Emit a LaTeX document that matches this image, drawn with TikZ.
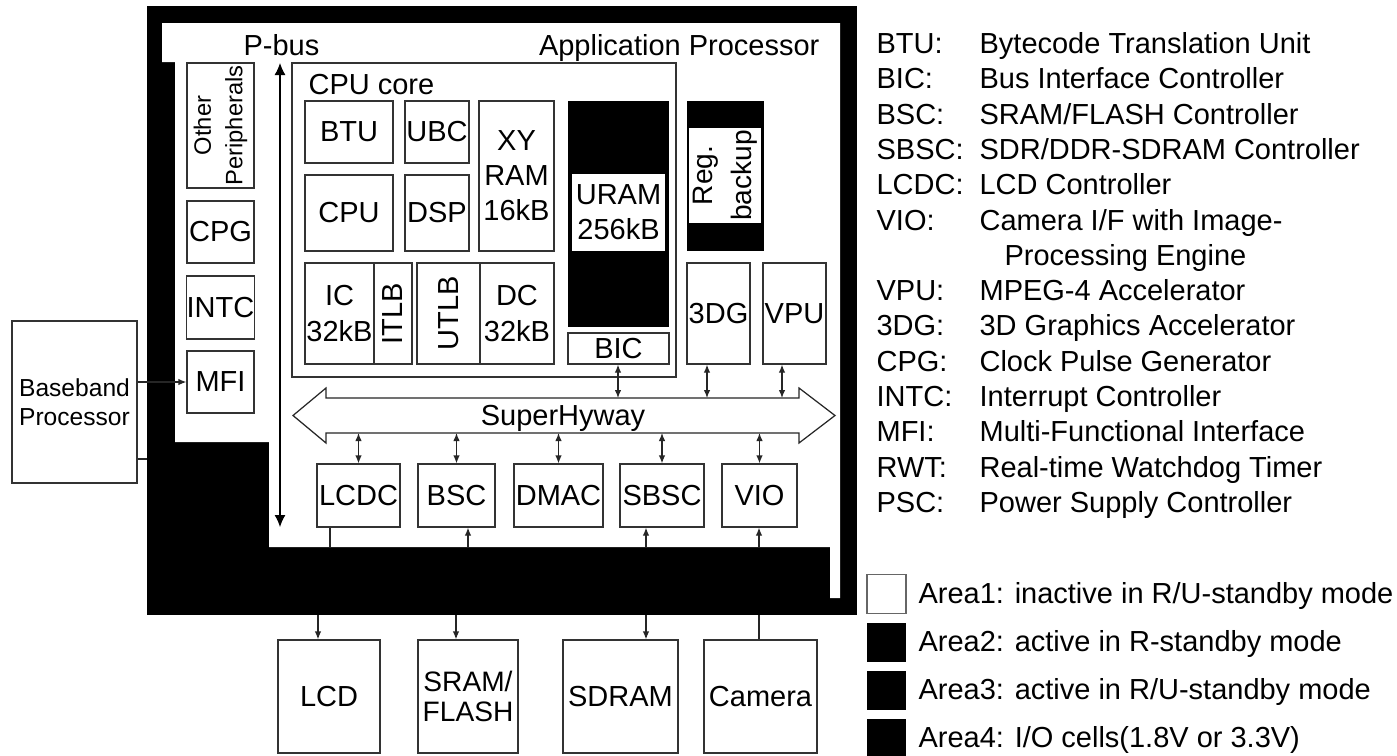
\documentclass[tikz,border=0pt]{standalone}
\usepackage{fontspec}
\setmainfont{Liberation Sans}
\usetikzlibrary{arrows.meta}

\begin{document}
\begin{tikzpicture}[x=0.02cm, y=-0.02cm, line width=0.7pt,
	every node/.style={font=\fontsize{16.5}{20}\selectfont, inner sep=0pt},
	>={Latex[length=1.6mm,width=1.3mm]},
	blk/.style={draw=black!80, fill=white, align=center},
	sz/.style 2 args={minimum width=#1*0.02cm, minimum height=#2*0.02cm},
	vtext/.style={rotate=90},
	cn/.style={draw=black!85},
	pbus/.style={{Latex[length=2.4mm,width=2.2mm]}-{Latex[length=2.4mm,width=2.2mm]}},
	lg/.style={anchor=base west}]
	\useasboundingbox (0,0) rectangle (1397,755);
	% application processor: I/O ring and core area
	\fill (147,6) rectangle (857,615);
	\fill[white] (162,23) -- (840,23) -- (840,598) -- (830,598) -- (830,547) -- (269,547)
		-- (269,442) -- (175,442) -- (175,62) -- (162,62) -- cycle;
	\node[lg] (pb) at (243,55.5) {P-bus};
	\node[anchor=base east] (ap) at (820,55.5) {Application Processor};
	\coordinate (pbt) at (280,63);
	\coordinate (pbb) at (280,527);
	\draw[pbus] (pbt) -- (pbb);
	% P-bus peripherals
	\node[blk, sz={125}{67}, vtext, font=\fontsize{13.5}{18}\selectfont] (oth) at (220.5,125.5) {Other\\Peripherals};
	\node[blk, sz={67}{62}] (cpg) at (220.5,232) {CPG};
	\node[blk, sz={67}{63}] (intc) at (220.5,307.5) {INTC};
	\node[blk, sz={67}{62}] (mfi) at (220.5,382) {MFI};
	% CPU core
	\node[blk, sz={384}{314}] (core) at (484,220) {};
	\node[lg] (corelbl) at (308,94) {CPU core};
	\node[blk, sz={88}{62}] (btu) at (349,132) {BTU};
	\node[blk, sz={64}{62}] (ubc) at (437,132) {UBC};
	\node[blk, sz={88}{76}] (cpu) at (349,213) {CPU};
	\node[blk, sz={64}{76}] (dsp) at (437,213) {DSP};
	\node[blk, sz={75}{150}] (xyram) at (516.5,176) {XY\\RAM\\16kB};
	\node[blk, sz={69}{101}] (ic) at (339.5,313.5) {IC\\32kB};
	\node[blk, sz={101}{38}, vtext] (itlb) at (393,313.5) {ITLB};
	\node[blk, sz={101}{63}, vtext] (utlb) at (448.5,313.5) {UTLB};
	\node[blk, sz={74}{101}] (dc) at (517,313.5) {DC\\32kB};
	\fill (568,101) rectangle (669,327);
	\node[fill=white, align=center, sz={93}{77}] (uram) at (618.5,212.5) {URAM\\256kB};
	\node[blk, sz={101}{31}] (bic) at (618.5,348.5) {BIC};
	% register backup and accelerators
	\fill (687,101) rectangle (764,251);
	\node[fill=white, align=center, sz={95}{72}, vtext, font=\fontsize{16}{22}\selectfont] (reg) at (725,175.5) {Reg.\\backup};
	\node[blk, sz={63}{101}] (g3d) at (718.5,313.5) {3DG};
	\node[blk, sz={63}{101}] (vpu) at (794.5,313.5) {VPU};
	% SuperHyway
	\draw[cn, fill=white] (293,415.5) -- (326,388) -- (326,398) -- (799,398) -- (799,388) -- (835,415.5)
		-- (799,443) -- (799,433) -- (326,433) -- (326,443) -- cycle;
	\node[anchor=base] (shw) at (563,425) {SuperHyway};
	\coordinate (shwb) at (0,433);
	\coordinate (t1) at (618,398);
	\coordinate (t2) at (707,398);
	\coordinate (t3) at (782,398);
	\draw[cn, <->] (bic.south -| t1) -- (t1);
	\draw[cn, <->] (g3d.south -| t2) -- (t2);
	\draw[cn, <->] (vpu.south -| t3) -- (t3);
	\foreach \n/\t/\x/\w in {lcdc/LCDC/358.5/83, bsc/BSC/456.5/77, dmac/DMAC/558.5/89, sbsc/SBSC/662/84, vio/VIO/759.5/75} {
		\node[blk, sz={\w}{63}] (\n) at (\x,495.5) {\t};
		\draw[cn, <->] (\n.north) -- (\n.north |- shwb);
	}
	% external devices
	\node[blk, sz={102}{113}] (lcd) at (329,696.5) {LCD};
	\node[blk, sz={100}{113}, font=\fontsize{16}{17.5}\selectfont] (sram) at (468,696.5) {SRAM/\\FLASH};
	\node[blk, sz={115}{113}] (sdram) at (620.5,696.5) {SDRAM};
	\node[blk, sz={113}{113}] (cam) at (760.5,696.5) {Camera};
	\coordinate (padA) at (330,547);
	\coordinate (padB) at (468,547);
	\coordinate (padC) at (646,547);
	\coordinate (padD) at (759,547);
	\coordinate (padE) at (318,615);
	\coordinate (padF) at (456,615);
	\coordinate (padG) at (646,615);
	\coordinate (padH) at (759,615);
	\draw[cn] (lcdc.south -| padA) -- (padA);
	\draw[cn, ->] (padB) -- (bsc.south -| padB);
	\draw[cn, ->] (padC) -- (sbsc.south -| padC);
	\draw[cn, ->] (padD) -- (vio.south -| padD);
	\draw[cn, ->] (padE) -- (lcd.north -| padE);
	\draw[cn, ->] (padF) -- (sram.north -| padF);
	\draw[cn, ->] (padG) -- (sdram.north -| padG);
	\draw[cn] (padH) -- (cam.north -| padH);
	% baseband processor
	\node[blk, sz={125}{162}, font=\fontsize{14}{16.5}\selectfont] (bb) at (74.5,402) {Baseband\\Processor};
	\coordinate (padL) at (147,459);
	\draw[cn, ->] (bb.east |- mfi) -- (mfi);
	\draw[cn] (bb.east |- padL) -- (padL);
	% abbreviations
	\foreach \i/\ab/\tx in {0/BTU:/Bytecode Translation Unit, 1/BIC:/Bus Interface Controller,
		2/BSC:/{SRAM/FLASH Controller}, 3/SBSC:/{SDR/DDR-SDRAM Controller}, 4/LCDC:/LCD Controller,
		5/VIO:/{Camera I/F with Image-}, 7/VPU:/MPEG-4 Accelerator, 8/3DG:/3D Graphics Accelerator,
		9/CPG:/Clock Pulse Generator, 10/INTC:/Interrupt Controller, 11/MFI:/Multi-Functional Interface,
		12/RWT:/Real-time Watchdog Timer, 13/PSC:/Power Supply Controller} {
		\node[lg] (ab\i) at (876,53.5+35.3*\i) {\ab};
		\node[lg] (tx\i) at (979,53.5+35.3*\i) {\tx};
	}
	\node[lg] (tx6) at (1004,53.5+35.3*6) {Processing Engine};
	% power areas
	\node[sz={39}{39}, draw=black!60, fill=white] (key1) at (886.5,594) {};
	\node[sz={39}{39}, fill=black] (key2) at (886.5,642) {};
	\node[sz={39}{39}, fill=black] (key3) at (886.5,690) {};
	\node[sz={39}{39}, fill=black] (key4) at (886.5,738) {};
	\node[lg] (ar1) at (918,603.5) {Area1: inactive in R/U-standby mode};
	\node[lg] (ar2) at (918,651.5) {Area2: active in R-standby mode};
	\node[lg] (ar3) at (918,699.5) {Area3: active in R/U-standby mode};
	\node[lg] (ar4) at (918,747.5) {Area4: I/O cells(1.8V or 3.3V)};
\end{tikzpicture}
\end{document}
